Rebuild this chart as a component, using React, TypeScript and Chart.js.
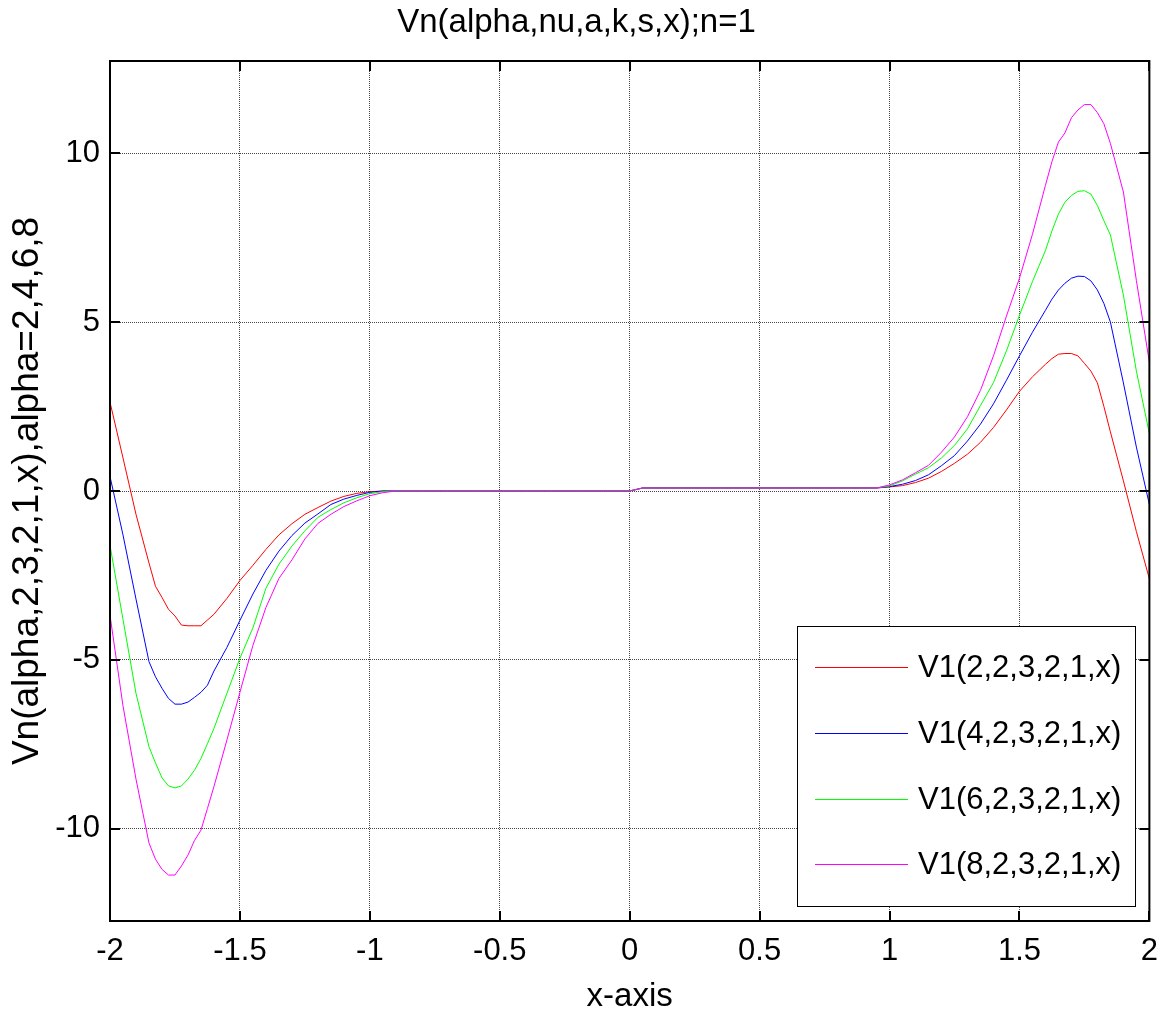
import React, { useEffect, useRef } from "react";
import { Chart, registerables } from "chart.js";

Chart.register(...registerables);

const FONT = '"Liberation Sans", Arial, Helvetica, sans-serif';

const xValues = [
  -2.0, -1.95, -1.9, -1.85, -1.825, -1.8, -1.775, -1.75, -1.725, -1.7, -1.675, -1.65, -1.625, -1.6, -1.55, -1.5, -1.45, -1.4, -1.35, -1.3,
  -1.25, -1.2, -1.15, -1.1, -1.05, -1.0, -0.95, -0.9, -0.85, -0.8, -0.75, -0.7, -0.65, -0.6, -0.55, -0.5, -0.45, -0.4, -0.35, -0.3,
  -0.25, -0.2, -0.15, -0.1, -0.05, 0.0,
  0.05, 0.1, 0.15, 0.2, 0.25, 0.3, 0.35, 0.4, 0.45, 0.5, 0.55, 0.6, 0.65, 0.7, 0.75, 0.8, 0.85, 0.9, 0.95,
  1.0, 1.05, 1.1, 1.15, 1.2, 1.25, 1.3, 1.35, 1.4, 1.45, 1.5, 1.55,
  1.6, 1.625, 1.65, 1.675, 1.7, 1.725, 1.75, 1.775, 1.8, 1.825, 1.85, 1.9, 1.95, 2.0,
];

const alpha2 = [
  2.63, 0.98, -0.69, -2.13, -2.82, -3.15, -3.5, -3.7, -3.97, -3.99, -3.99, -3.99, -3.82, -3.65, -3.18, -2.65, -2.2, -1.73, -1.3, -0.97,
  -0.69, -0.49, -0.3, -0.16, -0.07, -0.02, 0.0, 0, 0, 0, 0, 0, 0, 0, 0, 0, 0, 0, 0, 0,
  0, 0, 0, 0, 0, 0,
  0.09, 0.09, 0.09, 0.09, 0.09, 0.09, 0.09, 0.09, 0.09, 0.09, 0.09, 0.09, 0.09, 0.09, 0.09, 0.09, 0.09, 0.09, 0.09,
  0.12, 0.16, 0.25, 0.38, 0.58, 0.82, 1.09, 1.44, 1.88, 2.4, 2.95, 3.38,
  3.75, 3.92, 4.05, 4.07, 4.07, 4.0, 3.78, 3.55, 3.2, 2.5, 1.75, 0.3, -1.2, -2.6,
];

const alpha4 = [
  0.43, -1.3, -3.2, -5.05, -5.5, -5.84, -6.14, -6.31, -6.31, -6.25, -6.11, -5.96, -5.75, -5.33, -4.63, -3.83, -3.05, -2.35, -1.78, -1.32,
  -0.95, -0.68, -0.4, -0.24, -0.13, -0.04, 0.0, 0, 0, 0, 0, 0, 0, 0, 0, 0, 0, 0, 0, 0,
  0, 0, 0, 0, 0, 0,
  0.09, 0.09, 0.09, 0.09, 0.09, 0.09, 0.09, 0.09, 0.09, 0.09, 0.09, 0.09, 0.09, 0.09, 0.09, 0.09, 0.09, 0.09, 0.09,
  0.13, 0.2, 0.31, 0.48, 0.75, 1.05, 1.48, 1.98, 2.58, 3.28, 4.0, 4.7,
  5.35, 5.68, 5.95, 6.15, 6.3, 6.36, 6.35, 6.22, 5.95, 5.55, 5.0, 3.2, 1.3, -0.4,
];

const alpha6 = [
  -1.61, -3.8, -5.99, -7.57, -8.05, -8.49, -8.73, -8.79, -8.73, -8.53, -8.27, -7.92, -7.48, -7.03, -5.99, -4.95, -4.05, -2.88, -2.17, -1.63,
  -1.18, -0.78, -0.55, -0.35, -0.2, -0.08, -0.02, 0, 0, 0, 0, 0, 0, 0, 0, 0, 0, 0, 0, 0,
  0, 0, 0, 0, 0, 0,
  0.09, 0.09, 0.09, 0.09, 0.09, 0.09, 0.09, 0.09, 0.09, 0.09, 0.09, 0.09, 0.09, 0.09, 0.09, 0.09, 0.09, 0.09, 0.09,
  0.15, 0.3, 0.5, 0.69, 0.98, 1.35, 1.84, 2.53, 3.21, 4.15, 5.2, 6.2,
  7.12, 7.7, 8.2, 8.55, 8.75, 8.87, 8.89, 8.79, 8.45, 8.0, 7.58, 5.8, 3.55, 1.7,
];

const alpha8 = [
  -3.68, -6.36, -8.53, -10.42, -10.9, -11.2, -11.37, -11.37, -11.1, -10.78, -10.35, -10.04, -9.4, -8.75, -7.37, -5.96, -4.57, -3.45, -2.59, -2.04,
  -1.42, -0.96, -0.69, -0.46, -0.29, -0.14, -0.05, 0, 0, 0, 0, 0, 0, 0, 0, 0, 0, 0, 0, 0,
  0, 0, 0, 0, 0, 0,
  0.09, 0.09, 0.09, 0.09, 0.09, 0.09, 0.09, 0.09, 0.09, 0.09, 0.09, 0.09, 0.09, 0.09, 0.09, 0.09, 0.09, 0.09, 0.09,
  0.18, 0.33, 0.54, 0.76, 1.15, 1.6, 2.2, 2.98, 4.0, 5.18, 6.3, 7.6,
  9.05, 9.75, 10.33, 10.6, 11.05, 11.28, 11.44, 11.44, 11.2, 10.87, 10.29, 8.85, 6.23, 3.81,
];

const seriesLabels = ["V1(2,2,3,2,1,x)", "V1(4,2,3,2,1,x)", "V1(6,2,3,2,1,x)", "V1(8,2,3,2,1,x)"];
const seriesColors = ["#ff0000", "#0000ff", "#00ff00", "#ff00ff"];

const xTickValues = [-2, -1.5, -1, -0.5, 0, 0.5, 1, 1.5, 2];
const xTickLabels = ["-2", "-1.5", "-1", "-0.5", "0", "0.5", "1", "1.5", "2"];
const yTickValues = [-10, -5, 0, 5, 10];
const yTickLabels = ["-10", "-5", "0", "5", "10"];

const titleText = "Vn(alpha,nu,a,k,s,x);n=1";
const xTitle = "x-axis";
const yTitle = "Vn(alpha,2,3,2,1,x),alpha=2,4,6,8";

const frameLegendPlugin = {
  id: "frameLegend",
  afterDatasetsDraw(chart: any) {
    const { ctx, chartArea: a, scales } = chart;
    const xs = scales.x;
    const ys = scales.y;
    ctx.save();

    // legend box
    const lw = 338;
    const lh = 280;
    const lx = Math.round(a.right - 14 - lw);
    const ly = Math.round(a.bottom - 15 - lh);
    ctx.fillStyle = "#ffffff";
    ctx.fillRect(lx, ly, lw, lh);
    ctx.strokeStyle = "#000000";
    ctx.lineWidth = 1;
    ctx.strokeRect(lx + 0.5, ly + 0.5, lw, lh);
    ctx.font = `31px ${FONT}`;
    ctx.textBaseline = "middle";
    ctx.textAlign = "left";
    chart.data.datasets.forEach((ds: any, i: number) => {
      const y = Math.round(ly + 40.7 + i * 65.9) + 0.5;
      ctx.strokeStyle = ds.borderColor;
      ctx.lineWidth = 1;
      ctx.beginPath();
      ctx.moveTo(lx + 18, y);
      ctx.lineTo(lx + 111, y);
      ctx.stroke();
      ctx.fillStyle = "#000000";
      ctx.fillText(ds.label, lx + 121, y + 1);
    });

    // axes box
    ctx.strokeStyle = "#000000";
    ctx.lineWidth = 2;
    ctx.strokeRect(a.left, a.top, a.right - a.left, a.bottom - a.top);

    // inward ticks
    const tl = 10;
    ctx.lineWidth = 2;
    ctx.beginPath();
    xs.ticks.forEach((t: any) => {
      const px = Math.round(xs.getPixelForValue(t.value));
      ctx.moveTo(px, a.bottom);
      ctx.lineTo(px, a.bottom - tl);
      ctx.moveTo(px, a.top);
      ctx.lineTo(px, a.top + tl);
    });
    ys.ticks.forEach((t: any) => {
      const py = Math.round(ys.getPixelForValue(t.value));
      ctx.moveTo(a.left, py);
      ctx.lineTo(a.left + tl, py);
      ctx.moveTo(a.right, py);
      ctx.lineTo(a.right - tl, py);
    });
    ctx.stroke();
    ctx.restore();
  },
};

export default function App() {
  const canvasRef = useRef<HTMLCanvasElement | null>(null);

  useEffect(() => {
    document.body.style.margin = "0";
    const canvas = canvasRef.current;
    if (!canvas) return;
    Chart.defaults.font.family = FONT;
    Chart.defaults.color = "#000000";

    const series = [alpha2, alpha4, alpha6, alpha8];
    const datasets = series.map((vals, i) => ({
      label: seriesLabels[i],
      data: xValues.map((x, j) => ({ x, y: vals[j] })),
      borderColor: seriesColors[i],
      backgroundColor: seriesColors[i],
      borderWidth: 1,
      pointRadius: 0,
      tension: 0,
      fill: false,
      order: series.length - i,
    }));

    const chart = new Chart(canvas, {
      type: "line",
      data: { datasets },
      options: {
        responsive: false,
        maintainAspectRatio: false,
        devicePixelRatio: 1,
        animation: false,
        layout: { padding: { left: 0, right: 17, top: 0, bottom: 0 } },
        plugins: {
          legend: { display: false },
          tooltip: { enabled: false },
          title: {
            display: true,
            text: titleText,
            color: "#000000",
            font: { family: FONT, size: 33, weight: "normal", lineHeight: 1.0 },
            padding: { top: 6, bottom: 22 },
          },
        },
        scales: {
          x: {
            type: "linear",
            min: -2,
            max: 2,
            afterBuildTicks: (s: any) => {
              s.ticks = xTickValues.map((v) => ({ value: v }));
            },
            afterFit: (s: any) => {
              s.height = 98;
            },
            ticks: {
              autoSkip: false,
              maxRotation: 0,
              padding: 12,
              color: "#000000",
              font: { family: FONT, size: 31 },
              callback: (_v: any, i: number) => xTickLabels[i],
            },
            grid: { color: "#444444", lineWidth: 1, drawTicks: false },
            border: { display: false, dash: [1, 1] },
            title: {
              display: true,
              text: xTitle,
              color: "#000000",
              font: { family: FONT, size: 33, lineHeight: 1.0 },
              padding: { top: 0, bottom: 6 },
            },
          },
          y: {
            type: "linear",
            min: -12.73,
            max: 12.73,
            afterBuildTicks: (s: any) => {
              s.ticks = yTickValues.map((v) => ({ value: v }));
            },
            afterFit: (s: any) => {
              s.width = 110;
            },
            ticks: {
              autoSkip: false,
              padding: 10,
              color: "#000000",
              font: { family: FONT, size: 31 },
              callback: (_v: any, i: number) => yTickLabels[i],
            },
            grid: { color: "#444444", lineWidth: 1, drawTicks: false },
            border: { display: false, dash: [1, 1] },
            title: {
              display: true,
              text: yTitle,
              color: "#000000",
              font: { family: FONT, size: 37, lineHeight: 1.0 },
              padding: { top: 9, bottom: 0 },
            },
          },
        },
      },
      plugins: [frameLegendPlugin],
    } as any);

    return () => {
      chart.destroy();
    };
  }, []);

  return (
    <div style={{ width: 1170, height: 1019, position: "relative" }}>
      <canvas ref={canvasRef} width={1170} height={1019} style={{ display: "block" }} />
    </div>
  );
}
